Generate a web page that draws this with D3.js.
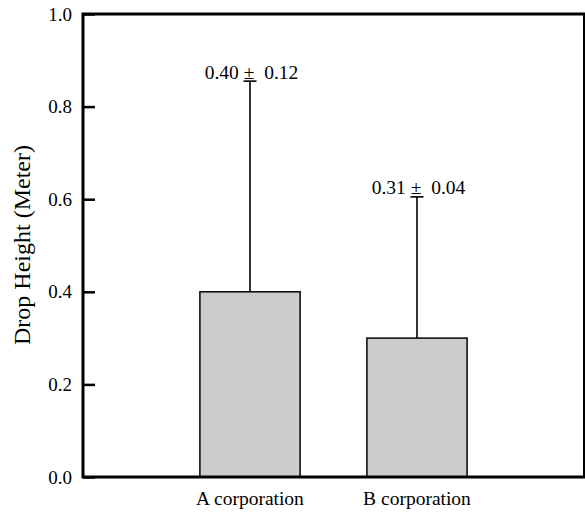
<!DOCTYPE html>
<html>
<head>
<meta charset="utf-8">
<script src="https://cdn.jsdelivr.net/npm/d3@7/dist/d3.min.js"></script>
<style>
  html, body { margin: 0; padding: 0; background: #fff; }
  svg { display: block; }
  text { font-family: "Liberation Serif", "Times New Roman", serif; fill: #000; }
</style>
</head>
<body>
<svg id="chart" width="585" height="513"></svg>
<script>
const categories = ["A corporation", "B corporation"];
const positions = [1, 2];
const means = [0.40, 0.30];
const errorTops = [0.855, 0.605];
const annotations = ["0.40 \u00B1  0.12", "0.31 \u00B1  0.04"];
const yTicks = [0.0, 0.2, 0.4, 0.6, 0.8, 1.0];

(function () {
const svg = d3.select("#chart");
const mLeft = 83, mRight = 584, mTop = 14, mBottom = 477;

const x = d3.scaleLinear().domain([0, 3]).range([mLeft, mRight]);
const y = d3.scaleLinear().domain([0, 1]).range([mBottom, mTop]);
const halfW = 0.3;

// bars
svg.selectAll("rect.bar").data(means).enter().append("rect")
  .attr("class", "bar")
  .attr("x", (d, i) => x(positions[i] - halfW))
  .attr("width", (d, i) => x(positions[i] + halfW) - x(positions[i] - halfW))
  .attr("y", d => y(d))
  .attr("height", d => y(0) - y(d))
  .attr("fill", "#cccccc")
  .attr("stroke", "#111")
  .attr("stroke-width", 1.6);

// error bars (upper)
const capHalf = 6.5;
svg.selectAll("line.err").data(means).enter().append("line")
  .attr("class", "err")
  .attr("x1", (d, i) => x(positions[i])).attr("x2", (d, i) => x(positions[i]))
  .attr("y1", d => y(d)).attr("y2", (d, i) => y(errorTops[i]))
  .attr("stroke", "#000").attr("stroke-width", 1.6);
svg.selectAll("line.cap").data(errorTops).enter().append("line")
  .attr("class", "cap")
  .attr("x1", (d, i) => x(positions[i]) - capHalf).attr("x2", (d, i) => x(positions[i]) + capHalf)
  .attr("y1", d => y(d)).attr("y2", d => y(d))
  .attr("stroke", "#000").attr("stroke-width", 1.6);

// annotations
svg.selectAll("text.ann").data(annotations).enter().append("text")
  .attr("class", "ann")
  .attr("x", (d, i) => x(positions[i]) + 1.5)
  .attr("y", (d, i) => y(errorTops[i]) - 2.5)
  .attr("text-anchor", "middle")
  .style("font-size", "19.5px")
  .style("white-space", "pre")
  .text(d => d);

// y axis
const yAxis = d3.axisLeft(y).tickValues(yTicks).tickFormat(d3.format(".1f"))
  .tickSizeInner(-12).tickSizeOuter(0).tickPadding(11);
const gy = svg.append("g").attr("transform", `translate(${mLeft},0)`).call(yAxis);
gy.select(".domain").remove();
gy.selectAll(".tick line").attr("stroke", "#000").attr("stroke-width", 2.5);
gy.selectAll(".tick text")
  .style("font-size", "19px")
  .style("font-family", "'Liberation Serif', 'Times New Roman', serif")
  .style("fill", "#000");

// frame
svg.append("rect")
  .attr("x", mLeft).attr("y", mTop)
  .attr("width", mRight - mLeft + 0.5).attr("height", mBottom - mTop)
  .attr("fill", "none").attr("stroke", "#000").attr("stroke-width", 3);

// x labels
svg.selectAll("text.xl").data(categories).enter().append("text")
  .attr("class", "xl")
  .attr("x", (d, i) => x(positions[i]))
  .attr("y", 505)
  .attr("text-anchor", "middle")
  .style("font-size", "19.5px")
  .text(d => d);

// y title
svg.append("text")
  .attr("transform", `translate(30,245) rotate(-90)`)
  .attr("text-anchor", "middle")
  .style("font-size", "24px")
  .text("Drop Height (Meter)");
})();
</script>
</body>
</html>
